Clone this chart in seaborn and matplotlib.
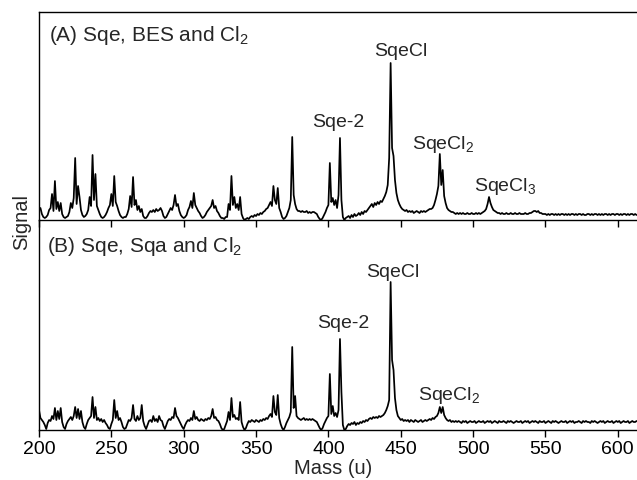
import numpy as np
import pandas as pd
import matplotlib
matplotlib.use('Agg')
import matplotlib.pyplot as plt
import seaborn as sns

# mass axis (u), one reading per unit mass
mass = np.arange(200, 614)

# (A) Sqe, BES and Cl2 - signal (arbitrary units)
sig_a = [
    10, 12, 6, 3, 2, 3, 5, 10, 12, 26,      # 200
    9, 39, 11, 18, 9, 17, 6, 3, 2, 3,       # 210
    4, 8, 17, 12, 22, 62, 16, 34, 23, 10,   # 220
    5, 3, 4, 6, 10, 23, 14, 65, 20, 46,     # 230
    14, 10, 6, 3, 2, 3, 5, 8, 12, 15,       # 240
    26, 14, 44, 18, 14, 9, 5, 3, 2, 3,      # 250
    3, 6, 11, 24, 13, 43, 15, 20, 10, 14,   # 260
    8, 11, 4, 2, 2, 4, 7, 9, 8, 10,         # 270
    8, 11, 9, 10, 12, 9, 4, 2, 3, 6,        # 280
    9, 12, 10, 15, 25, 14, 16, 9, 5, 3,     # 290
    2, 3, 5, 10, 13, 19, 12, 27, 15, 12,    # 300
    9, 7, 4, 2, 3, 5, 8, 10, 12, 14,        # 310
    20, 12, 14, 9, 7, 4, 2, 2, 1, 3,        # 320
    3, 16, 10, 44, 15, 23, 12, 16, 10, 23,  # 330
    6, 2, 0, 1, 2, 1, 3, 4, 3, 5,           # 340
    4, 6, 5, 7, 6, 8, 9, 11, 12, 15,        # 350
    18, 14, 34, 20, 16, 32, 12, 8, 3, 1,    # 360
    2, 4, 8, 12, 20, 83, 25, 16, 11, 9,     # 370
    9, 8, 9, 8, 8, 9, 7, 8, 7, 8,           # 380
    8, 7, 6, 3, 1, 0, 2, 5, 8, 12,          # 390
    15, 57, 18, 22, 15, 20, 12, 25, 82, 20, # 400
    3, 0, 2, 3, 4, 2, 5, 3, 6, 4,           # 410
    5, 7, 5, 8, 6, 9, 8, 10, 12, 14,        # 420
    16, 13, 17, 15, 18, 16, 19, 18, 21, 24, # 430
    28, 35, 62, 157, 72, 64, 40, 27, 20, 16,  # 440
    13, 11, 10, 9, 10, 8, 9, 8, 9, 7,       # 450
    8, 9, 8, 7, 9, 8, 9, 8, 9, 10,          # 460
    11, 11, 12, 15, 20, 26, 34, 66, 35, 50, # 470
    24, 17, 12, 10, 9, 8, 8, 7, 6, 7,       # 480
    6, 7, 6, 7, 6, 6, 7, 6, 6, 7,           # 490
    6, 6, 7, 6, 7, 6, 7, 8, 9, 11,          # 500
    16, 23, 17, 13, 10, 9, 8, 7, 7, 6,      # 510
    7, 6, 6, 7, 6, 6, 7, 6, 6, 7,           # 520
    6, 6, 7, 6, 6, 6, 7, 6, 6, 7,           # 530
    7, 8, 9, 9, 8, 9, 7, 7, 6, 6,           # 540
    6, 5, 6, 5, 6, 6, 5, 6, 5, 6,           # 550
    5, 6, 6, 5, 6, 5, 6, 5, 6, 6,           # 560
    5, 6, 5, 6, 6, 5, 6, 5, 5, 6,           # 570
    6, 5, 6, 5, 6, 6, 5, 6, 5, 6,           # 580
    5, 6, 6, 5, 6, 5, 6, 6, 5, 6,           # 590
    6, 5, 6, 5, 6, 6, 5, 6, 5, 6,           # 600
    6, 5, 6, 5,                             # 610
]

# (B) Sqe, Sqa and Cl2
sig_b = [
    20, 12, 10, 8, 5, 1, 7, 10, 9, 14,      # 200
    11, 22, 10, 19, 11, 22, 8, 3, 1, 6,     # 210
    9, 11, 13, 10, 14, 23, 12, 21, 11, 19,  # 220
    8, 3, 1, 6, 10, 12, 14, 33, 12, 23,     # 230
    10, 12, 9, 11, 8, 10, 7, 5, 2, 1,       # 240
    6, 10, 30, 12, 19, 10, 12, 8, 3, 1,     # 250
    2, 6, 10, 9, 12, 25, 11, 9, 14, 10,     # 260
    12, 25, 9, 4, 1, 5, 9, 10, 8, 14,       # 270
    9, 11, 8, 14, 10, 9, 4, 1, 5, 9,        # 280
    11, 10, 13, 12, 22, 14, 12, 9, 6, 3,    # 290
    1, 5, 8, 10, 9, 12, 10, 19, 11, 13,     # 300
    10, 9, 11, 10, 9, 11, 10, 12, 11, 14,   # 310
    21, 12, 13, 10, 9, 6, 2, 0, 1, 5,       # 320
    9, 18, 10, 32, 13, 15, 11, 12, 10, 28,  # 330
    8, 3, 0, 2, 6, 9, 8, 10, 9, 8,          # 340
    10, 9, 8, 10, 9, 11, 10, 12, 11, 14,    # 350
    16, 13, 34, 18, 15, 35, 12, 6, 2, 0,    # 360
    3, 7, 10, 13, 18, 83, 22, 34, 14, 12,   # 370
    11, 10, 11, 12, 10, 11, 10, 11, 10, 11, # 380
    10, 9, 8, 5, 2, 0, 2, 6, 9, 12,         # 390
    14, 56, 16, 24, 14, 17, 13, 20, 91, 38, # 400
    5, 0, 1, 4, 6, 5, 7, 6, 8, 5,           # 410
    7, 6, 8, 7, 9, 8, 10, 9, 11, 12,        # 420
    11, 13, 12, 13, 12, 14, 13, 14, 15, 17, # 430
    20, 24, 30, 148, 70, 60, 32, 20, 14, 12,  # 440
    10, 11, 9, 10, 9, 10, 8, 10, 9, 8,      # 450
    10, 9, 8, 9, 10, 8, 9, 10, 9, 10,       # 460
    11, 10, 12, 11, 13, 14, 17, 23, 17, 23, # 470
    15, 12, 10, 9, 10, 8, 9, 8, 9, 8,       # 480
    9, 8, 7, 9, 8, 9, 7, 8, 9, 8,           # 490
    8, 9, 7, 8, 9, 8, 8, 9, 7, 8,           # 500
    9, 8, 9, 7, 8, 9, 8, 7, 9, 8,           # 510
    8, 9, 8, 7, 9, 8, 9, 8, 7, 8,           # 520
    9, 8, 8, 9, 7, 8, 9, 8, 9, 7,           # 530
    8, 9, 8, 9, 8, 7, 9, 8, 8, 9,           # 540
    7, 8, 9, 8, 7, 9, 8, 9, 8, 7,           # 550
    8, 9, 8, 8, 9, 7, 8, 9, 8, 9,           # 560
    7, 8, 8, 9, 8, 7, 9, 8, 9, 8,           # 570
    8, 7, 9, 8, 9, 8, 7, 8, 9, 8,           # 580
    9, 7, 8, 9, 8, 8, 9, 7, 8, 9,           # 590
    8, 9, 7, 8, 9, 8, 8, 9, 7, 8,           # 600
    9, 8, 8, 9,                             # 610
]

# peak labels (text, mass, signal at text baseline)
labels_a = ['Sqe-2', 'SqeCl', r'$\mathregular{SqeCl_2}$', r'$\mathregular{SqeCl_3}$']
label_mass_a = [406.6, 450.2, 479.2, 522.4]
label_sig_a = [92.7, 164, 70.7, 29]

labels_b = ['Sqe-2', 'SqeCl', r'$\mathregular{SqeCl_2}$']
label_mass_b = [410.2, 444.6, 483.3]
label_sig_b = [102.3, 153.3, 30]

panel_titles = [r'(A) Sqe, BES and $\mathregular{Cl_2}$', r'(B) Sqe, Sqa and $\mathregular{Cl_2}$']
xticks = [200, 250, 300, 350, 400, 450, 500, 550, 600]

df_a = pd.DataFrame({'mass': mass, 'signal': sig_a})
df_b = pd.DataFrame({'mass': mass, 'signal': sig_b})

sns.set_style('ticks')
plt.rcParams['font.family'] = ['Liberation Sans', 'DejaVu Sans']

W, H = 637, 480
fig = plt.figure(figsize=(W / 100, H / 100), dpi=100)
left = 39 / W
width = (W - 39) / W
ax_a = fig.add_axes([left, 1 - 220 / H, width, 208 / H])
ax_b = fig.add_axes([left, 1 - 430 / H, width, 210 / H])

sns.lineplot(data=df_a, x='mass', y='signal', ax=ax_a, color='black',
             linewidth=1.25, estimator=None, sort=False)
sns.lineplot(data=df_b, x='mass', y='signal', ax=ax_b, color='black',
             linewidth=1.25, estimator=None, sort=False)

xmax = 200 + (W - 39) / 1.447
for ax, top in [(ax_a, 208), (ax_b, 210)]:
    ax.set_xlim(200, xmax)
    ax.set_ylim(0, top)
    ax.set_xticks(xticks)
    ax.set_yticks([])
    ax.set_xlabel('')
    ax.set_ylabel('')
    ax.tick_params(axis='x', direction='out', length=5, width=1, color='black', pad=3)
    ax.spines['right'].set_visible(False)
    for s in ['left', 'bottom', 'top']:
        ax.spines[s].set_linewidth(1.0)
        ax.spines[s].set_color('black')
    ax.patch.set_alpha(0)

ax_b.spines['top'].set_visible(False)
ax_a.tick_params(axis='x', labelbottom=False)
ax_b.tick_params(axis='x', labelsize=14, labelcolor='black')

ax_a.text(0.0167, 0.862, panel_titles[0], transform=ax_a.transAxes,
          fontsize=15, va='baseline', ha='left')
ax_b.text(0.0129, 0.849, panel_titles[1], transform=ax_b.transAxes,
          fontsize=15, va='baseline', ha='left')

for t, m, s in zip(labels_a, label_mass_a, label_sig_a):
    ax_a.text(m, s, t, fontsize=14, ha='center', va='baseline')
for t, m, s in zip(labels_b, label_mass_b, label_sig_b):
    ax_b.text(m, s, t, fontsize=14, ha='center', va='baseline')

fig.text(22 / W, 1 - 222 / H, 'Signal', rotation=90, fontsize=14.5,
         ha='center', va='center')
fig.text(333 / W, 1 - 468 / H, 'Mass (u)', fontsize=14.5, ha='center', va='center')

fig.savefig('out.png', dpi=100)
